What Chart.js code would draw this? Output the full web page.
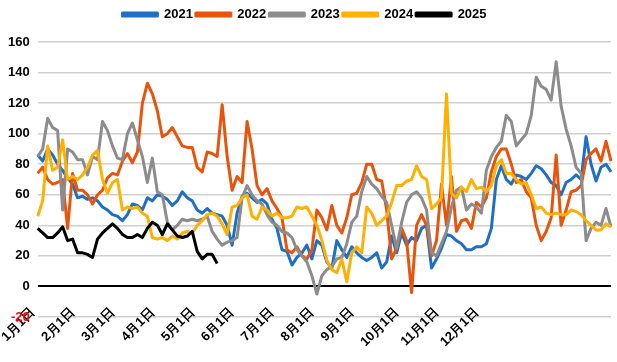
<!DOCTYPE html>
<html>
<head>
<meta charset="utf-8">
<script src="https://cdn.jsdelivr.net/npm/chart.js@4/dist/chart.umd.min.js"></script>
<style>
  html, body { margin: 0; padding: 0; background: #fff; }
  #wrap { width: 617px; height: 362px; }
</style>
</head>
<body>
<div id="wrap"><canvas id="c" width="617" height="362"></canvas></div>
<script>
const monthLabels = ['1月1日','2月1日','3月1日','4月1日','5月1日','6月1日','7月1日','8月1日','9月1日','10月1日','11月1日','12月1日'];
const monthIndex = [0,8,16,24,32,40,48,56,64,73,81,89];
const seriesNames = ['2021','2022','2023','2024','2025'];

const v2021 = [86,82,90,86,80,76,71,67,58,59,57,58,56,52,50,47,46,43,47,54,53,50,58,56,60,59,57,53,56,62,58,56,50,48,51,48,47,46,40,27,48,59,61,58,55,57,54,44,38,24,23,14,19,22,27,18,30,27,16,12,30,24,19,26,22,19,17,19,22,12,16,33,22,35,27,32,30,38,40,12,18,25,34,33,30,28,24,24,26,26,28,38,70,79,70,67,73,72,70,74,79,77,73,68,66,60,68,70,73,70,98,80,69,78,80,75];
const v2022 = [74,78,70,67,68,70,38,74,63,63,60,54,60,63,71,74,73,82,87,81,88,120,133,126,115,98,100,104,98,92,91,91,78,75,88,87,85,119,85,63,72,68,108,90,66,60,64,56,51,45,24,22,26,20,18,24,50,45,37,53,40,35,45,60,61,68,80,80,70,69,50,18,25,38,30,-4,40,47,40,20,30,67,40,72,36,43,44,38,55,52,58,75,85,90,90,80,68,70,62,58,40,30,36,45,86,40,50,62,63,66,83,87,90,82,95,82];
const v2023 = [85,90,110,104,102,50,90,88,83,83,73,85,83,108,102,92,84,83,100,107,96,85,68,84,62,60,42,37,40,44,43,44,43,44,46,36,31,27,29,30,32,58,66,60,56,54,47,42,40,36,35,32,24,20,16,7,-5,7,11,13,18,19,28,42,46,62,72,67,64,59,55,40,25,42,55,60,62,58,50,22,20,28,36,52,63,65,50,54,52,48,76,85,91,95,112,108,92,96,100,112,137,131,129,122,147,118,103,92,78,74,30,38,42,40,51,39];
const v2024 = [46,56,92,76,78,96,70,72,70,73,78,86,89,70,61,68,70,50,52,51,52,48,46,32,31,32,30,33,31,35,36,35,40,43,47,48,46,41,34,52,53,58,60,46,44,52,50,46,48,45,45,46,52,51,52,46,40,30,17,11,9,18,3,22,26,22,52,48,40,43,46,55,66,66,69,70,79,72,70,51,54,58,126,61,58,65,62,70,64,65,62,66,79,83,74,74,70,67,68,60,51,52,48,47,48,47,47,50,49,47,43,40,37,37,41,39];
const v2025 = [38,35,32,32,35,39,30,31,22,22,21,19,31,35,38,41,38,34,32,32,34,32,38,42,40,34,41,37,33,32,33,36,23,18,21,21,15];
const yTicks = [-20,0,20,40,60,80,100,120,140,160];

const colors = ['#1f6fc6','#e8540c','#8c8c8c','#ffb000','#000000'];
const allValues = [v2021, v2022, v2023, v2024, v2025];

const nPoints = v2021.length;
const categories = [];
for (let i = 0; i < nPoints; i++) {
  const m = monthIndex.indexOf(i);
  categories.push(m >= 0 ? monthLabels[m] : '');
}

const datasets = seriesNames.map((name, k) => ({
  label: name,
  data: allValues[k],
  borderColor: colors[k],
  backgroundColor: colors[k],
  borderWidth: 3,
  pointRadius: 0,
  pointHoverRadius: 0,
  tension: 0,
  fill: false,
  borderJoinStyle: 'round',
  order: seriesNames.length - k
}));

const legendTweak = {
  id: 'legendTweak',
  beforeInit(chart) {
    const origFit = chart.legend.fit;
    chart.legend.fit = function () {
      origFit.bind(this)();
      this.height += 11;
    };
  },
  afterLayout(chart) {
    chart.legend.left -= 1;
    chart.legend.right -= 1;
  }
};

new Chart(document.getElementById('c'), {
  type: 'line',
  data: { labels: categories, datasets },
  plugins: [legendTweak],
  options: {
    responsive: false,
    animation: false,
    layout: { padding: { left: 0, right: 6, top: 5, bottom: 0 } },
    plugins: {
      legend: {
        position: 'top',
        labels: {
          sort: (a, b) => a.datasetIndex - b.datasetIndex,
          boxWidth: 35,
          boxHeight: 3,
          padding: 3,
          color: '#000',
          font: { family: 'Liberation Sans', size: 13, weight: 'bold' }
        }
      },
      tooltip: { enabled: false }
    },
    scales: {
      x: {
        type: 'category',
        grid: { display: false, drawTicks: false },
        border: { display: false },
        afterFit: (axis) => {
          axis.height = 45;
          axis.paddingLeft = 0;
          axis.paddingRight = 0;
          axis._computeLabelArea = () => undefined;
        },
        ticks: {
          autoSkip: false,
          minRotation: 45,
          maxRotation: 45,
          padding: -12,
          labelOffset: -5,
          color: '#000',
          font: { family: 'Liberation Sans', size: 13, weight: 'bold' }
        }
      },
      y: {
        min: -20,
        max: 160,
        afterBuildTicks: (axis) => { axis.ticks = yTicks.map(v => ({ value: v })); },
        grid: {
          color: (ctx) => ctx.tick && ctx.tick.value === 0 ? '#000' : '#d0d0d0',
          lineWidth: (ctx) => ctx.tick && ctx.tick.value === 0 ? 2 : 1.5,
          drawTicks: false
        },
        border: { display: false },
        ticks: {
          padding: 8,
          color: (ctx) => ctx.tick && ctx.tick.value < 0 ? '#ff0000' : '#000',
          font: { family: 'Liberation Sans', size: 13, weight: 'bold' }
        }
      }
    }
  }
});
</script>
</body>
</html>
